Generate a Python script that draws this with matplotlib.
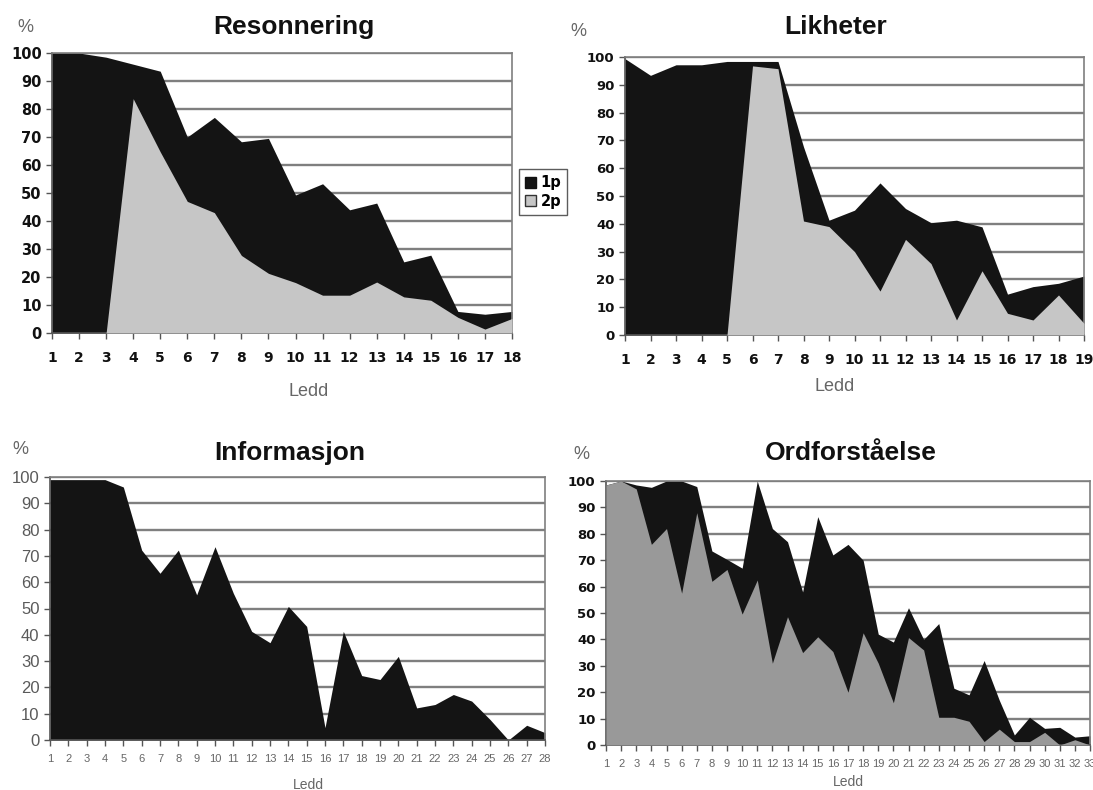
import matplotlib.pyplot as plt
from matplotlib.patches import Patch

# Resonnering
res_ledd = list(range(1, 19))
res_1p = [100, 100, 98.5, 96, 93.5, 70, 77, 68.3, 69.5, 49.3, 53.3, 44, 46.4, 25.4, 27.8, 7.7, 6.7, 7.7]
res_2p = [0, 0, 0, 83.7, 64.7, 47, 43, 27.7, 21.3, 18, 13.5, 13.5, 18.2, 12.9, 11.7, 5.6, 1.4, 5.2]

# Likheter
lik_ledd = list(range(1, 20))
lik_1p = [99.4, 93.4, 97.2, 97.2, 98.4, 98.4, 98.4, 67.7, 41.3, 44.9, 54.7, 45.5, 40.4, 41.3, 38.9, 14.7, 17.4, 18.6, 21.2]
lik_2p = [0, 0, 0, 0, 0, 96.8, 95.8, 41, 39, 30, 15.8, 34.4, 25.7, 5.4, 23.1, 7.8, 5.4, 14.4, 4.2]

# Informasjon
inf_ledd = list(range(1, 29))
inf_1p = [99, 99, 99, 99, 96.2, 72.2, 63.4, 72.2, 55.2, 73.5, 55.8, 41.3, 37, 50.8, 43.2, 4.7,
          41.3, 24.5, 23, 31.8, 12.2, 13.5, 17.3, 14.8, 7.8, 0, 5.6, 2.8]

# Ordforståelse
ord_ledd = list(range(1, 34))
ord_1p = [98.5, 100, 98.5, 97.6, 100, 100, 97.9, 73.5, 70.3, 67, 100, 82, 77, 58, 86.5, 72, 76,
          70, 42, 39, 52, 40, 46, 21.5, 19, 32, 17, 3.8, 10.5, 6.3, 6.7, 3, 3.5]
ord_2p = [98.5, 100, 97, 76, 82, 57.5, 88, 62, 66.5, 49.6, 62.5, 31, 48.6, 35, 41, 35.4, 20,
          42.5, 31, 16, 40.7, 36, 10.5, 10.5, 9, 1.3, 6, 1.3, 1.3, 4.8, 0, 2, 0]

W, H = 1093, 790
fig = plt.figure(figsize=(W / 100, H / 100), dpi=100)
fig.patch.set_facecolor("white")

GRID = "#7f7f7f"
BLACK = "#141414"
LIGHT = "#c6c6c6"


def box(x0, y0, x1, y1):
    return [x0 / W, 1 - y1 / H, (x1 - x0) / W, (y1 - y0) / H]


def panel(rect, ledd, s1, s2, gray, title, title_xy, pct_xy, ledd_xy, ledd_size,
          ytick_style, xtick_style, xpad):
    ax = fig.add_axes(rect)
    ax.set_xlim(ledd[0], ledd[-1])
    ax.set_ylim(0, 100)
    ax.set_yticks(range(0, 101, 10))
    ax.set_xticks(ledd)
    ax.set_xticklabels([str(v) for v in ledd])
    for y in range(10, 101, 10):
        ax.axhline(y, color=GRID, lw=1.7, zorder=1)
    ax.fill_between(ledd, 0, s1, color=BLACK, lw=0, zorder=2)
    if s2 is not None:
        ax.fill_between(ledd, 0, s2, color=gray, lw=0, zorder=3)
    for side in ["top", "right"]:
        ax.spines[side].set_color(GRID)
        ax.spines[side].set_linewidth(1.2)
    for side in ["left", "bottom"]:
        ax.spines[side].set_color("#555555")
        ax.spines[side].set_linewidth(1.2)
    ax.tick_params(axis="both", direction="out", length=4, width=1, color="#555555")
    ax.tick_params(axis="x", pad=xpad)
    for lab in ax.get_yticklabels():
        lab.set(**ytick_style)
    for lab in ax.get_xticklabels():
        lab.set(**xtick_style)
    fig.text(title_xy[0] / W, 1 - title_xy[1] / H, title, ha="center", va="center",
             fontsize=19, weight="bold", family="Liberation Sans", color="#111111")
    fig.text(pct_xy[0] / W, 1 - pct_xy[1] / H, "%", ha="center", va="center",
             fontsize=13, family="Liberation Sans", color="#666666")
    fig.text(ledd_xy[0] / W, 1 - ledd_xy[1] / H, "Ledd", ha="center", va="center",
             fontsize=ledd_size, family="Liberation Sans", color="#666666")
    return ax


def bold(size):
    return dict(family="DejaVu Sans", weight="bold", size=size, color="#111111")


thin_y = dict(family="Liberation Sans", size=12, color="#5a5a5a")
thin_x = dict(family="Liberation Sans", size=8, color="#666666")

panel(box(52, 53, 512, 333), res_ledd, res_1p, res_2p, LIGHT, "Resonnering",
      (294, 27), (25, 27), (309, 392), 13, bold(10.5), bold(10), 9)
panel(box(625, 57, 1084, 335), lik_ledd, lik_1p, lik_2p, LIGHT, "Likheter",
      (836, 27), (578, 32), (835, 387), 13, bold(9.5), bold(10), 9)
panel(box(50, 477, 545, 740), inf_ledd, inf_1p, None, LIGHT, "Informasjon",
      (290, 453), (20, 449), (308, 785), 10, thin_y, thin_x, 6)
panel(box(606, 481, 1090, 745), ord_ledd, ord_1p, ord_2p, "#999999", "Ordforståelse",
      (851, 453), (581, 455), (848, 782), 10, bold(9.5), thin_x, 6)

handles = [Patch(facecolor=BLACK, edgecolor="#111111", label="1p"),
           Patch(facecolor=LIGHT, edgecolor="#333333", label="2p")]
leg = fig.legend(handles=handles, loc="center", bbox_to_anchor=(543 / W, 1 - 192 / H),
                 frameon=True, fancybox=False, handlelength=0.8, handleheight=0.8,
                 handletextpad=0.3, borderpad=0.4, labelspacing=0.25,
                 prop=dict(family="DejaVu Sans", weight="bold", size=10.5))
leg.get_frame().set_edgecolor("#333333")
leg.get_frame().set_linewidth(1)

fig.savefig("out.png", dpi=100, facecolor="white")
